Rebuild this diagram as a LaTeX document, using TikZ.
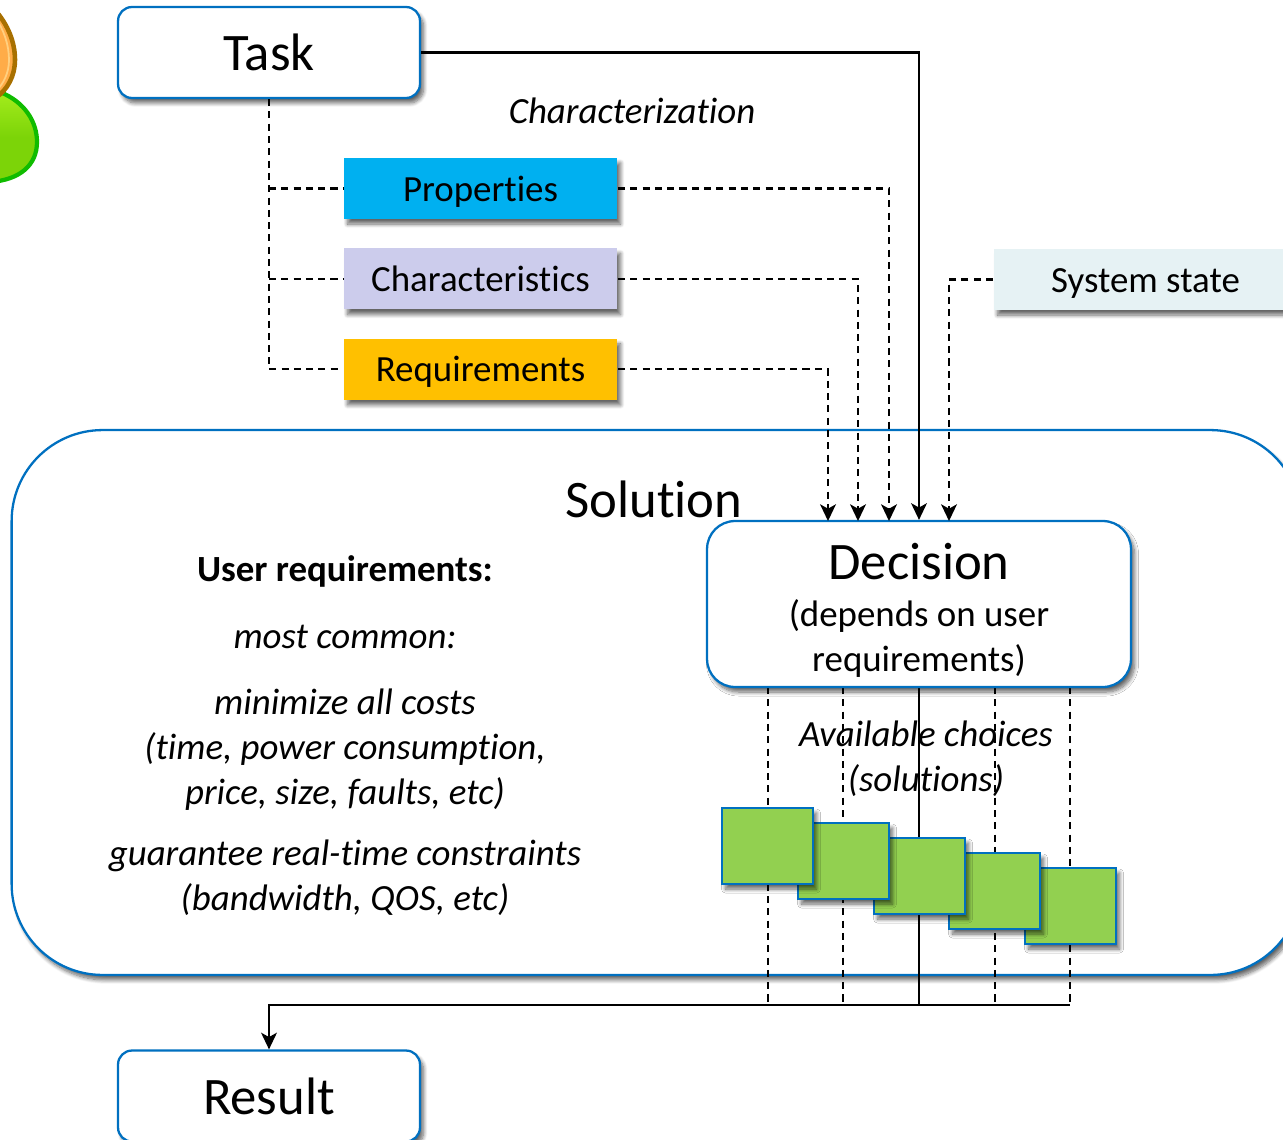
\documentclass[tikz,border=0pt]{standalone}
\usepackage{fontspec}
\setmainfont{Carlito}[Ligatures=NoCommon]
\usetikzlibrary{arrows.meta, shadows.blur, positioning}

\definecolor{boxblue}{HTML}{0070C0}
\definecolor{propblue}{HTML}{00B0F0}
\definecolor{charlilac}{HTML}{CCCCEC}
\definecolor{reqorange}{HTML}{FFC000}
\definecolor{statemist}{HTML}{E6F2F4}
\definecolor{choicegreen}{HTML}{92D050}
\definecolor{personedge}{HTML}{10BC00}
\definecolor{persontop}{HTML}{A4EC1C}
\definecolor{personlow}{HTML}{7CD408}
\definecolor{headedge}{HTML}{A87000}
\definecolor{headfill}{HTML}{FFAC48}
\definecolor{headring}{HTML}{FFD080}

\newcommand{\bodyfont}{\fontsize{21}{25.6}\selectfont}
\newcommand{\bigfont}{\fontsize{30}{32}\selectfont}

\begin{document}
\begin{tikzpicture}[
            x = 0.02cm,
            y = -0.02cm,
            > = {Stealth[length=9.5pt, width=9pt, inset=2.5pt]},
            node distance = 1.81cm,
            on grid,
            line width = 1.15pt,
            softshadow/.style = {blur shadow={shadow xshift=0.07cm, shadow yshift=-0.1cm, shadow blur radius=0.08cm, shadow blur steps=8, shadow opacity=60}},
            bigbox/.style = {draw=boxblue, fill=white, line width=1.3pt, rounded corners=0.28cm, minimum width=6.04cm, minimum height=1.82cm, softshadow, font=\bigfont},
            itembox/.style = {fill=#1, minimum width=5.46cm, minimum height=1.22cm, text height=0.6cm, text depth=0.1cm, softshadow, font=\bodyfont},
            choicebox/.style = {draw=boxblue, fill=choicegreen, line width=1.3pt, minimum width=1.82cm, minimum height=1.52cm, softshadow},
            label/.style = {align=center, font=\bodyfont\itshape},
            dashlink/.style = {dash pattern=on 4pt off 3pt}
        ]
        \useasboundingbox (0,0) rectangle (1283,1139);

        % person
        \draw[draw=personedge, line width=2.4pt, top color=persontop, bottom color=personlow, middle color=personlow]
            (-30,92) -- (0,92) .. controls (25,102) and (37,122) .. (37,142)
            .. controls (37,165) and (20,180) .. (-10,182) -- (-30,182) -- cycle;
        \draw[draw=headedge, line width=2.6pt, fill=headfill]
            (-30,5) -- (-5,10) .. controls (8,25) and (15,42) .. (15,60)
            .. controls (15,75) and (8,90) .. (-5,98) -- (-30,100) -- cycle;
        \draw[draw=headring, line width=1pt]
            (-5,17) .. controls (4,30) and (9,45) .. (9,60) .. controls (9,72) and (4,84) .. (-5,92);

        \node[bigbox, rounded corners=1.82cm, minimum width=25.8cm, minimum height=10.9cm] (solution) at (656.5,702.5) {};
        \node[font=\bigfont] (solutiontitle) at (654,499) {Solution};

        \node[bigbox] (task) at (269,52.5) {Task};
        \node[bigbox] (result) at (269,1096) {Result};

        \node[itembox=propblue] (properties) at (480.5,188.5) {Properties};
        \node[itembox=charlilac, below of=properties] (characteristics) {Characteristics};
        \node[itembox=reqorange, below of=characteristics] (requirements) {Requirements};
        \node[itembox=statemist, minimum width=6.06cm] (systemstate) at (1145.5,279.5) {System state};

        \coordinate (reqin) at (828,521);
        \coordinate (charin) at (858,521);
        \coordinate (propin) at (889,521);
        \coordinate (statein) at (949,521);
        \coordinate (merge) at (1070,1005);

        % choices to result
        \foreach \x/\y [count=\i] in {768/846, 843/861, 919/876, 995/891, 1070/906}
            \coordinate (slot\i) at (\x,\y);
        \draw[dashlink] (slot1 |- 0,687) -- (slot1 |- merge);
        \draw[dashlink] (slot2 |- 0,687) -- (slot2 |- merge);
        \draw (slot3 |- 0,687) -- (slot3 |- merge);
        \draw[dashlink] (slot4 |- 0,687) -- (slot4 |- merge);
        \draw[dashlink] (slot5 |- 0,687) -- (merge);
        \draw[->] (merge) -| (result.north);

        % characterization
        \draw[dashlink] (task.south) |- (requirements.west);
        \draw[dashlink] (task.south |- properties.west) -- (properties.west);
        \draw[dashlink] (task.south |- characteristics.west) -- (characteristics.west);

        \node[bigbox, minimum width=8.48cm, minimum height=3.32cm, rounded corners=0.56cm, inner sep=0pt, font=\bodyfont, align=center] (decision) at (919,604) {\rule{0pt}{23pt}\raisebox{-5pt}{\bigfont Decision}\\[6pt](depends on user\\requirements)};

        \draw[->, dashlink] (requirements.east) -| (reqin);
        \draw[->, dashlink] (characteristics.east) -| (charin);
        \draw[->, dashlink] (properties.east) -| (propin);
        \draw[->, dashlink] (systemstate.west) -| (statein);
        \draw[->] (task.east) -| (decision.north);

        \node[choicebox] at (1070.5,906) (choice5) {};
        \node[choicebox] at (994.5,891) (choice4) {};
        \node[choicebox] at (919.5,876) (choice3) {};
        \node[choicebox] at (843.5,861) (choice2) {};
        \node[choicebox] at (767.5,846) (choice1) {};

        \node[label] (characterization) at (632,111) {Characterization};
        \node[label] (available) at (926,759) {Available choices\\(solutions)};
        \node[label, font=\bodyfont\bfseries] (userreq) at (345,571) {User requirements:};
        \node[label] (common) at (345,637) {most common:};
        \node[label] (minimize) at (345,750) {minimize all costs\\(time, power consumption,\\price, size, faults, etc)};
        \node[label] (guarantee) at (345,878) {guarantee real-time constraints\\(bandwidth, QOS, etc)};
    \end{tikzpicture}
\end{document}
